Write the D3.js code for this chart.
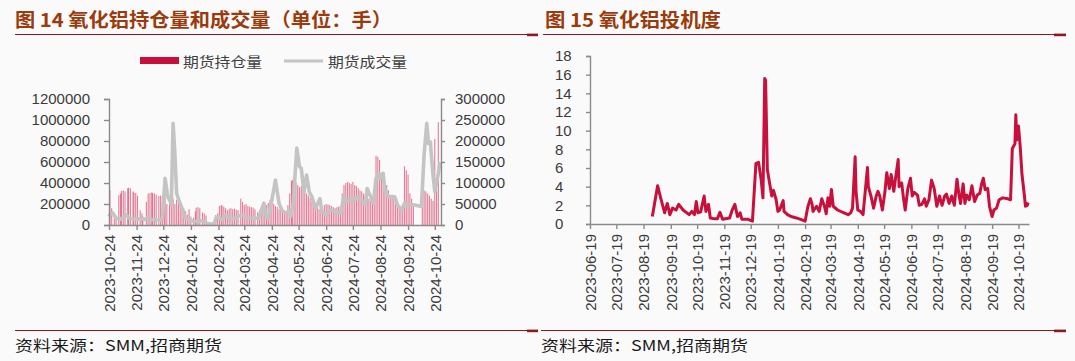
<!DOCTYPE html>
<html><head><meta charset="utf-8">
<script src="https://cdn.jsdelivr.net/npm/d3@7"></script>
<style>
html,body{margin:0;padding:0;background:#fafafa;}
svg{display:block;}
</style></head><body>
<svg id="c" width="1075" height="361"></svg>
<script>
// ---------- Figure 14: open interest (bars, left axis) & volume (line, right axis) ----------
// day offsets counted from oiStart
const oiStart = "2023-10-24";
const oiDays = [
  1,3,6,8,11,13,14,16,18,21,
  22,24,27,28,30,32,35,37,38,42,
  44,46,48,49,51,53,56,58,60,62,
  63,65,68,70,72,74,76,78,80,82,
  84,86,88,90,92,95,97,98,100,102,
  105,107,109,120,122,124,126,127,129,131,
  133,135,137,139,141,143,145,148,150,152,
  154,156,158,160,162,164,167,169,171,173,
  175,177,179,181,183,185,187,189,191,193,
  195,197,199,201,203,205,206,208,210,212,
  214,216,218,220,222,224,226,228,230,232,
  234,236,238,240,242,244,246,248,250,252,
  254,256,258,260,262,264,266,268,270,272,
  274,276,278,280,282,284,286,288,290,292,
  294,296,298,300,302,304,306,308,310,312,
  314,316,318,320,322,324,326,328,330,332,
  334,336,338,340,342,352,354,356,358,360,
  362,364,366,368,370];
const oiVals = [
  333000,160000,110000,80000,285000,300000,325000,330000,320000,350000,
  355000,350000,320000,310000,305000,280000,140000,110000,80000,220000,
  300000,305000,310000,305000,300000,290000,275000,280000,270000,240000,
  260000,200000,235000,240000,250000,200000,240000,230000,220000,170000,
  160000,130000,100000,150000,80000,70000,130000,165000,170000,160000,
  120000,110000,90000,95000,110000,180000,190000,185000,175000,160000,
  140000,155000,160000,150000,155000,145000,140000,250000,220000,190000,
  200000,180000,175000,170000,165000,150000,120000,140000,170000,180000,
  200000,190000,210000,240000,230000,200000,180000,170000,150000,140000,
  120000,130000,110000,190000,300000,420000,430000,400000,410000,380000,
  360000,370000,365000,340000,300000,280000,260000,220000,200000,180000,
  170000,150000,140000,130000,190000,200000,195000,190000,180000,170000,
  160000,170000,175000,180000,300000,380000,400000,410000,400000,390000,
  410000,380000,370000,350000,330000,320000,300000,270000,260000,250000,
  230000,240000,260000,660000,650000,620000,500000,420000,400000,380000,
  330000,270000,260000,250000,220000,200000,180000,170000,160000,560000,
  520000,480000,300000,250000,200000,360000,330000,320000,300000,280000,
  250000,230000,820000,350000,980000];
const volDays = [
  0,1,4,8,13,19,23,28,33,40,
  45,47,52,58,60,63,66,69,70,72,
  74,76,79,82,86,90,95,103,109,114,
  118,120,123,127,131,135,140,144,150,155,
  163,168,174,176,179,183,187,191,194,198,
  202,204,207,211,214,216,219,222,225,228,
  232,237,239,244,249,254,260,264,267,271,
  275,279,284,288,290,294,297,300,303,305,
  308,310,314,318,321,324,329,332,335,342,
  351,354,357,359,361,364,366,370,372];
const volVals = [
  20000,24000,29000,16000,13500,24000,16000,14000,15000,13000,
  20000,12000,13000,12000,16000,111000,67000,56000,48000,242000,
  170000,75000,56000,40000,16000,12000,8000,10000,5000,2400,
  2400,16000,20000,12000,24000,16000,14000,20000,24000,16000,
  16000,16000,52000,24000,16000,60000,107000,52000,36000,28000,
  32000,20000,52000,183000,139000,135000,79000,119000,79000,67000,
  40000,63000,32000,24000,36000,32000,28000,67000,56000,63000,
  60000,67000,60000,48000,87000,67000,52000,111000,123000,111000,
  123000,83000,67000,68000,67000,48000,36000,52000,48000,48000,
  44000,167000,242000,194000,198000,120000,80000,123000,150000];
const leftTickLabels = ["2023-10-24","2023-11-24","2023-12-24","2024-01-24","2024-02-24","2024-03-24",
  "2024-04-24","2024-05-24","2024-06-24","2024-07-24","2024-08-24","2024-09-24","2024-10-24"];
const oiTicks = [0,200000,400000,600000,800000,1000000,1200000];
const volTicks = [0,50000,100000,150000,200000,250000,300000];
const legendNames = ["期货持仓量","期货成交量"];

// ---------- Figure 15: speculation degree ----------
const specStart = "2023-06-19";
const specDays = [
  71,77,81,85,88,91,94,98,101,106,
  113,116,119,121,123,126,130,132,135,137,
  142,145,148,151,159,162,165,168,171,173,
  180,185,189,192,195,197,199,200,202,204,
  207,209,212,214,216,220,221,225,229,235,
  240,245,248,251,253,254,258,261,264,267,
  269,271,273,275,277,282,288,294,297,299,
  302,303,305,308,311,314,316,317,320,323,
  326,328,330,333,336,338,341,343,346,348,
  351,352,355,357,359,362,365,367,369,373,
  375,378,381,383,386,389,392,395,398,401,
  404,406,409,412,415,418,420,422,425,427,
  429,432,435,438,441,444,446,448,450,453,
  455,458,460,463,466,470,476,479,481,484,
  485,486,488,490,492,494,496,498,499];
const specVals = [
  0.8,4.1,2.6,1.2,2.2,1.0,1.7,1.5,2.1,1.5,
  1.0,1.35,1.0,2.4,1.2,1.3,3.0,1.35,2.1,0.65,
  0.55,0.55,1.25,0.5,0.65,1.5,2.1,0.8,1.2,0.5,
  0.5,0.3,6.5,6.6,4.7,2.8,15.6,15.4,5.8,4.7,
  3.0,3.6,2.6,1.35,1.5,2.5,1.35,1.0,0.8,0.65,
  0.5,0.3,1.8,2.7,2.1,1.35,1.9,1.35,2.7,1.9,
  1.1,2.8,1.9,3.7,1.9,1.5,1.25,1.0,1.2,1.7,
  7.2,3.5,1.5,1.35,1.0,4.0,6.05,4.0,3.0,1.7,
  3.0,3.5,3.0,1.5,3.5,5.5,3.8,5.3,3.5,4.9,
  6.9,4.0,4.4,2.8,1.5,3.8,4.9,3.0,3.4,3.1,
  2.0,2.1,2.7,1.9,2.6,4.7,3.8,1.9,3.0,2.0,
  3.0,3.2,2.2,3.0,2.0,4.8,3.3,2.2,4.3,2.2,
  3.1,2.6,4.1,2.4,3.1,3.3,4.3,4.9,3.7,3.8,
  1.9,0.8,1.5,1.7,2.6,2.8,2.7,2.6,8.1,8.6,
  11.7,9.0,10.5,8.3,5.3,3.7,1.9,2.0,2.3];
const rightTickLabels = ["2023-06-19","2023-07-19","2023-08-19","2023-09-19","2023-10-19","2023-11-19",
  "2023-12-19","2024-01-19","2024-02-19","2024-03-19","2024-04-19","2024-05-19","2024-06-19",
  "2024-07-19","2024-08-19","2024-09-19","2024-10-19"];
const specTicks = [0,2,4,6,8,10,12,14,16,18];

const titles = ["图 14 氧化铝持仓量和成交量（单位：手）","图 15 氧化铝投机度"];
const sourceText = "资料来源：SMM,招商期货";

// ---------- drawing ----------
const svg = d3.select("#c");
const parse = d3.utcParse("%Y-%m-%d");
const fmt = d3.utcFormat("%Y-%m-%d");
const NUMFONT = "'Liberation Sans', Arial, sans-serif";
const CJK = "'Noto Sans CJK SC', sans-serif";
const AXIS = "#8a8a8a", LABEL = "#3a3a3a";
const CRIMSON = "#c8103c", TITLE = "#9b3a0c", RULE = "#8b1a1a";

// frames: titles, rules, sources
const frames = [
  {tx:15, tl:377, rx0:15, rx1:527, bx1:538, sx:15},
  {tx:545, tl:176, rx0:543, rx1:1054, bx1:1066, sx:541}
];
frames.forEach((f,i)=>{
  svg.append("text").attr("x",f.tx).attr("y",27).text(titles[i])
    .attr("font-family",CJK).attr("font-weight","bold").attr("font-size",19)
    .attr("fill",TITLE).attr("textLength",f.tl).attr("lengthAdjust","spacingAndGlyphs");
  svg.append("line").attr("x1",f.rx0).attr("x2",f.rx1).attr("y1",34.5).attr("y2",34.5)
    .attr("stroke",RULE).attr("stroke-width",1.2);
  svg.append("rect").attr("x",f.rx1).attr("y",33.6).attr("width",f.bx1-f.rx1).attr("height",2.6).attr("fill",RULE);
  svg.append("line").attr("x1",f.sx).attr("x2",f.rx1).attr("y1",330.5).attr("y2",330.5)
    .attr("stroke",RULE).attr("stroke-width",1.2);
  svg.append("rect").attr("x",f.rx1).attr("y",329.6).attr("width",f.bx1-f.rx1).attr("height",2.6).attr("fill",RULE);
  svg.append("text").attr("x",f.sx).attr("y",351).text(sourceText)
    .attr("font-family",CJK).attr("font-size",15).attr("fill","#1a1a1a")
    .attr("textLength",207).attr("lengthAdjust","spacingAndGlyphs");
});

function styleAxis(g){
  g.select(".domain").attr("stroke",AXIS).attr("stroke-width",1.4);
  g.selectAll(".tick line").attr("stroke",AXIS).attr("stroke-width",1.4);
  g.selectAll(".tick text").attr("fill",LABEL).attr("font-family",NUMFONT).attr("font-size",15);
}

// ----- left chart -----
const x0L = parse(oiStart);
const xL = d3.scaleUtc().domain([x0L, parse("2024-10-31")]).range([109, 441]);
const yL = d3.scaleLinear().domain([0,1200000]).range([225, 99]);
const yV = d3.scaleLinear().domain([0,300000]).range([225, 99]);

const oiData = oiDays.map((d,i)=>({date:d3.utcDay.offset(x0L,d), v:oiVals[i]}));
const volData = volDays.map((d,i)=>({date:d3.utcDay.offset(x0L,d), v:volVals[i]}));

svg.append("g").selectAll("rect").data(oiData).join("rect")
  .attr("x",d=>xL(d.date)-0.55).attr("width",1.1)
  .attr("y",d=>yL(d.v)).attr("height",d=>yL(0)-yL(d.v))
  .attr("fill","#d42a55").attr("opacity",0.6);

svg.append("path").datum(volData)
  .attr("d",d3.line().x(d=>xL(d.date)).y(d=>yV(d.v)))
  .attr("fill","none").attr("stroke","#c4c4c4").attr("stroke-width",3.6)
  .attr("stroke-linejoin","round");

const gyl = svg.append("g").attr("transform","translate(109,0)")
  .call(d3.axisLeft(yL).tickValues(oiTicks).tickSize(5).tickPadding(14).tickFormat(d3.format("d")));
styleAxis(gyl);
const gyr = svg.append("g").attr("transform","translate(441,0)")
  .call(d3.axisRight(yV).tickValues(volTicks).tickSize(4).tickPadding(10).tickFormat(d3.format("d")));
styleAxis(gyr);
const gxl = svg.append("g").attr("transform","translate(0,225)")
  .call(d3.axisBottom(xL).tickValues(leftTickLabels.map(parse)).tickSize(5).tickSizeOuter(0).tickFormat(fmt));
styleAxis(gxl);
gxl.selectAll(".tick text").attr("transform","rotate(-90)").attr("x",-10).attr("y",0)
  .attr("dy","0.35em").attr("text-anchor","end");

// legend
svg.append("rect").attr("x",140).attr("y",57).attr("width",39).attr("height",7).attr("fill",CRIMSON);
svg.append("text").attr("x",183).attr("y",66.5).text(legendNames[0])
  .attr("font-family",CJK).attr("font-size",14).attr("fill","#404040")
  .attr("textLength",79).attr("lengthAdjust","spacingAndGlyphs");
svg.append("line").attr("x1",284).attr("x2",323).attr("y1",61).attr("y2",61)
  .attr("stroke","#c4c4c4").attr("stroke-width",3);
svg.append("text").attr("x",328).attr("y",66.5).text(legendNames[1])
  .attr("font-family",CJK).attr("font-size",14).attr("fill","#404040")
  .attr("textLength",79).attr("lengthAdjust","spacingAndGlyphs");

// ----- right chart -----
const x0S = parse(specStart);
const xS = d3.scaleUtc().domain([x0S, parse("2024-10-31")]).range([590, 1029]);
const yS = d3.scaleLinear().domain([0,18]).range([224, 56]);
const specData = specDays.map((d,i)=>({date:d3.utcDay.offset(x0S,d), v:specVals[i]}));

const gys = svg.append("g").attr("transform","translate(590,0)")
  .call(d3.axisLeft(yS).tickValues(specTicks).tickSize(4).tickFormat(d3.format("d")));
styleAxis(gys);
gys.selectAll(".tick text").attr("text-anchor","start").attr("x",-35);
const gxs = svg.append("g").attr("transform","translate(0,224)")
  .call(d3.axisBottom(xS).tickValues(rightTickLabels.map(parse)).tickSize(5).tickSizeOuter(0).tickFormat(fmt));
styleAxis(gxs);
gxs.selectAll(".tick text").attr("transform","rotate(-90)").attr("x",-10).attr("y",0)
  .attr("dy","0.35em").attr("text-anchor","end");

svg.append("path").datum(specData)
  .attr("d",d3.line().x(d=>xS(d.date)).y(d=>yS(d.v)))
  .attr("fill","none").attr("stroke",CRIMSON).attr("stroke-width",3)
  .attr("stroke-linejoin","round");
</script>
</body></html>
